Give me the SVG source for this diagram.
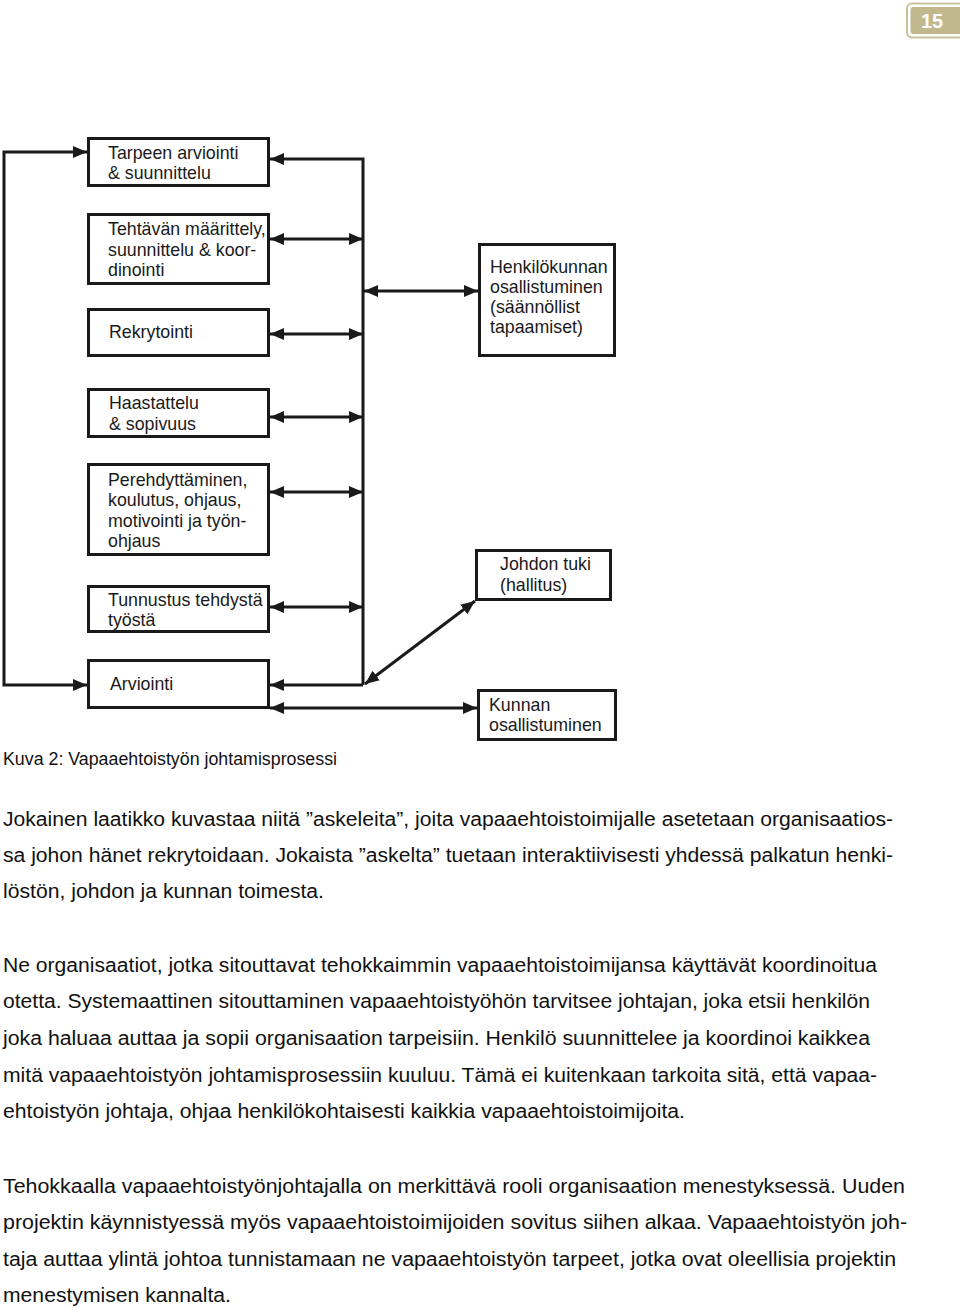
<svg xmlns="http://www.w3.org/2000/svg" width="960" height="1308" viewBox="0 0 960 1308">
<style>
.box{fill:#fff;stroke:#1a1a1a;stroke-width:3}
.bt{font-family:"Liberation Sans",Arial,sans-serif;font-size:17.8px;fill:#1a1a1a}
.con{fill:none;stroke:#1a1a1a;stroke-width:3}
.body{font-family:"Liberation Sans",Arial,sans-serif;font-size:20px;fill:#111}
.cap{font-family:"Liberation Sans",Arial,sans-serif;font-size:17.5px;fill:#111}
</style>
<defs>
<marker id="ah" markerUnits="userSpaceOnUse" markerWidth="15" markerHeight="13" refX="14" refY="6" orient="auto-start-reverse" viewBox="0 0 15 13">
<path d="M0,0 L14,6 L0,12 z" fill="#1a1a1a"/>
</marker>
</defs>
<rect width="960" height="1308" fill="#fff"/>

<g id="page-number">
<rect x="907" y="3.5" width="60" height="34" rx="5" fill="#fff" stroke="#c9c19c" stroke-width="2"/>
<rect x="910.5" y="7" width="56" height="27" rx="3" fill="#c1b88d"/>
<text x="932" y="28" text-anchor="middle" font-family="Liberation Sans,Arial,sans-serif" font-size="20" font-weight="bold" fill="#fff">15</text>
</g>

<g id="connectors">
<path class="con" d="M87,685 H4 V152 H87" marker-start="url(#ah)" marker-end="url(#ah)"/>
<path class="con" d="M363,685 V159 H270" marker-end="url(#ah)"/>
<path class="con" d="M363,685 H270" marker-end="url(#ah)"/>
<path class="con" d="M270,239 H363" marker-start="url(#ah)" marker-end="url(#ah)"/>
<path class="con" d="M270,334 H363" marker-start="url(#ah)" marker-end="url(#ah)"/>
<path class="con" d="M270,417 H363" marker-start="url(#ah)" marker-end="url(#ah)"/>
<path class="con" d="M270,492 H363" marker-start="url(#ah)" marker-end="url(#ah)"/>
<path class="con" d="M270,607 H363" marker-start="url(#ah)" marker-end="url(#ah)"/>
<path class="con" d="M364,291 H478" marker-start="url(#ah)" marker-end="url(#ah)"/>
<path class="con" d="M365,684 L475,601" marker-start="url(#ah)" marker-end="url(#ah)"/>
<path class="con" d="M270,708 H477" marker-start="url(#ah)" marker-end="url(#ah)"/>
</g>

<g id="n1">
<rect class="box" x="88.5" y="138.5" width="180" height="47"/>
<text class="bt" x="108" y="159">Tarpeen arviointi</text>
<text class="bt" x="108" y="179">&amp; suunnittelu</text>
</g>
<g id="n2">
<rect class="box" x="88.5" y="214.5" width="180" height="69"/>
<text class="bt" x="108" y="235">Tehtävän määrittely,</text>
<text class="bt" x="108" y="256">suunnittelu &amp; koor-</text>
<text class="bt" x="108" y="276">dinointi</text>
</g>
<g id="n3">
<rect class="box" x="88.5" y="309.5" width="180" height="46"/>
<text class="bt" x="109" y="338">Rekrytointi</text>
</g>
<g id="n4">
<rect class="box" x="88.5" y="389.5" width="180" height="47"/>
<text class="bt" x="109" y="409">Haastattelu</text>
<text class="bt" x="109" y="430">&amp; sopivuus</text>
</g>
<g id="n5">
<rect class="box" x="88.5" y="464.5" width="180" height="90"/>
<text class="bt" x="108" y="486">Perehdyttäminen,</text>
<text class="bt" x="108" y="506">koulutus, ohjaus,</text>
<text class="bt" x="108" y="527">motivointi ja työn-</text>
<text class="bt" x="108" y="547">ohjaus</text>
</g>
<g id="n6">
<rect class="box" x="88.5" y="586.5" width="180" height="45"/>
<text class="bt" x="108" y="606">Tunnustus tehdystä</text>
<text class="bt" x="108" y="626">työstä</text>
</g>
<g id="n7">
<rect class="box" x="88.5" y="660.5" width="180" height="47"/>
<text class="bt" x="110" y="690">Arviointi</text>
</g>
<g id="n8">
<rect class="box" x="479.5" y="244.5" width="135" height="111"/>
<text class="bt" x="490" y="273">Henkilökunnan</text>
<text class="bt" x="490" y="293">osallistuminen</text>
<text class="bt" x="490" y="313">(säännöllist</text>
<text class="bt" x="490" y="333">tapaamiset)</text>
</g>
<g id="n9">
<rect class="box" x="476.5" y="550.5" width="134" height="49"/>
<text class="bt" x="500" y="570">Johdon tuki</text>
<text class="bt" x="500" y="591">(hallitus)</text>
</g>
<g id="n10">
<rect class="box" x="478.5" y="690.5" width="137" height="49"/>
<text class="bt" x="489" y="711">Kunnan</text>
<text class="bt" x="489" y="731">osallistuminen</text>
</g>

<text class="cap" x="3" y="765" textLength="334" lengthAdjust="spacingAndGlyphs">Kuva 2: Vapaaehtoistyön johtamisprosessi</text>

<g id="body-text">
<text class="body" x="3" y="826" textLength="890" lengthAdjust="spacingAndGlyphs">Jokainen laatikko kuvastaa niitä ”askeleita”, joita vapaaehtoistoimijalle asetetaan organisaatios-</text>
<text class="body" x="3" y="862" textLength="890" lengthAdjust="spacingAndGlyphs">sa johon hänet rekrytoidaan. Jokaista ”askelta” tuetaan interaktiivisesti yhdessä palkatun henki-</text>
<text class="body" x="3" y="898" textLength="321" lengthAdjust="spacingAndGlyphs">löstön, johdon ja kunnan toimesta.</text>
<text class="body" x="3" y="972" textLength="874" lengthAdjust="spacingAndGlyphs">Ne organisaatiot, jotka sitouttavat tehokkaimmin vapaaehtoistoimijansa käyttävät koordinoitua</text>
<text class="body" x="3" y="1008" textLength="867" lengthAdjust="spacingAndGlyphs">otetta. Systemaattinen sitouttaminen vapaaehtoistyöhön tarvitsee johtajan, joka etsii henkilön</text>
<text class="body" x="3" y="1045" textLength="867" lengthAdjust="spacingAndGlyphs">joka haluaa auttaa ja sopii organisaation tarpeisiin. Henkilö suunnittelee ja koordinoi kaikkea</text>
<text class="body" x="3" y="1082" textLength="874" lengthAdjust="spacingAndGlyphs">mitä vapaaehtoistyön johtamisprosessiin kuuluu. Tämä ei kuitenkaan tarkoita sitä, että vapaa-</text>
<text class="body" x="3" y="1118" textLength="682" lengthAdjust="spacingAndGlyphs">ehtoistyön johtaja, ohjaa henkilökohtaisesti kaikkia vapaaehtoistoimijoita.</text>
<text class="body" x="3" y="1193" textLength="902" lengthAdjust="spacingAndGlyphs">Tehokkaalla vapaaehtoistyönjohtajalla on merkittävä rooli organisaation menestyksessä. Uuden</text>
<text class="body" x="3" y="1229" textLength="904" lengthAdjust="spacingAndGlyphs">projektin käynnistyessä myös vapaaehtoistoimijoiden sovitus siihen alkaa. Vapaaehtoistyön joh-</text>
<text class="body" x="3" y="1266" textLength="893" lengthAdjust="spacingAndGlyphs">taja auttaa ylintä johtoa tunnistamaan ne vapaaehtoistyön tarpeet, jotka ovat oleellisia projektin</text>
<text class="body" x="3" y="1302" textLength="228" lengthAdjust="spacingAndGlyphs">menestymisen kannalta.</text>
</g>
</svg>
